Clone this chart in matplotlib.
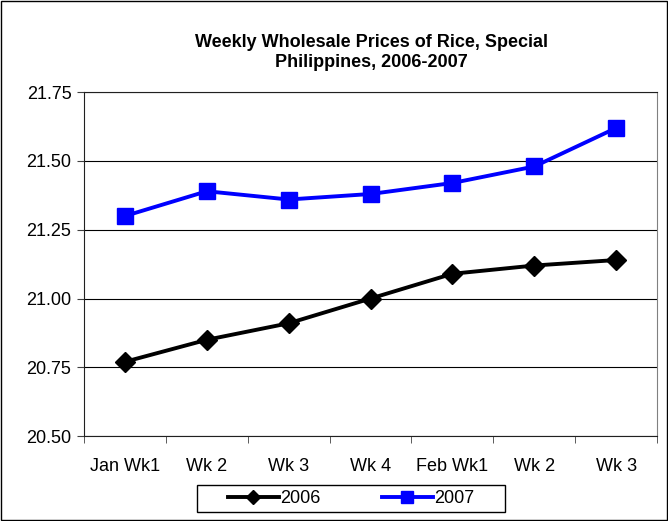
#!/usr/bin/env python3

import matplotlib
matplotlib.use("Agg")
from matplotlib import pyplot
from matplotlib.lines import Line2D
from matplotlib.ticker import FixedLocator, NullFormatter

pyplot.rcParams["font.family"] = ["Liberation Sans", "DejaVu Sans"]

weeks = ["Jan Wk1", "Wk 2", "Wk 3", "Wk 4", "Feb Wk1", "Wk 2", "Wk 3"]
prices_2006 = [20.77, 20.85, 20.91, 21.00, 21.09, 21.12, 21.14]
prices_2007 = [21.30, 21.39, 21.36, 21.38, 21.42, 21.48, 21.62]
yticks = [20.50, 20.75, 21.00, 21.25, 21.50, 21.75]

fig = pyplot.figure(figsize=(6.68, 5.21), dpi=100)
# outer chart border
fig.patches.append(pyplot.Rectangle((0.002, 0.002), 0.996, 0.996,
                                    transform=fig.transFigure, fill=False,
                                    edgecolor="black", linewidth=1))
ax = fig.add_axes([0.1257, 0.163, 0.858, 0.66])

x = list(range(len(weeks)))
ax.plot(x, prices_2006, color="black", linewidth=2.8, marker="D",
        markersize=10)
ax.plot(x, prices_2007, color="#0000ff", linewidth=2.8, marker="s",
        markersize=12)

ax.set_xlim(-0.5, len(weeks) - 0.5)
ax.set_ylim(20.50, 21.75)
ax.set_yticks(yticks)
ax.set_yticklabels([f"{v:.2f}" for v in yticks], fontsize=13)
ax.set_xticks(x)
ax.set_xticklabels(weeks, fontsize=13)
ax.tick_params(axis="x", which="major", length=0, pad=16)
ax.xaxis.set_minor_locator(FixedLocator([i - 0.5 for i in range(len(weeks) + 1)]))
ax.xaxis.set_minor_formatter(NullFormatter())
ax.tick_params(axis="x", which="minor", length=5, direction="out", color="#404040")
ax.tick_params(axis="y", length=5, direction="out", color="#404040", pad=4)

ax.grid(axis="y", color="black", linewidth=0.8)
ax.set_axisbelow(True)
for side in ["top", "left", "bottom"]:
    ax.spines[side].set_color("#202020")
ax.spines["right"].set_color("#808080")

fig.text(0.556, 0.899, "Weekly Wholesale Prices of Rice, Special\nPhilippines, 2006-2007",
         ha="center", va="center", fontsize=13, fontweight="bold", linespacing=1.25)

# legend, with the box drawn separately to get Excel's wide side padding
h1 = Line2D([], [], color="black", linewidth=2.8, marker="D", markersize=7.5)
h2 = Line2D([], [], color="#0000ff", linewidth=2.8, marker="s", markersize=9)
fig.legend(handles=[h1, h2], labels=["2006", "2007"], loc="center",
           bbox_to_anchor=(0.526, 0.043), ncol=2, fontsize=13, frameon=False,
           handlelength=2.8, handletextpad=0.1, columnspacing=3.4)
fig.patches.append(pyplot.Rectangle((0.295, 0.0173), 0.461, 0.0518,
                                    transform=fig.transFigure, fill=False,
                                    edgecolor="black", linewidth=1))

fig.savefig("out.png", dpi=100)
